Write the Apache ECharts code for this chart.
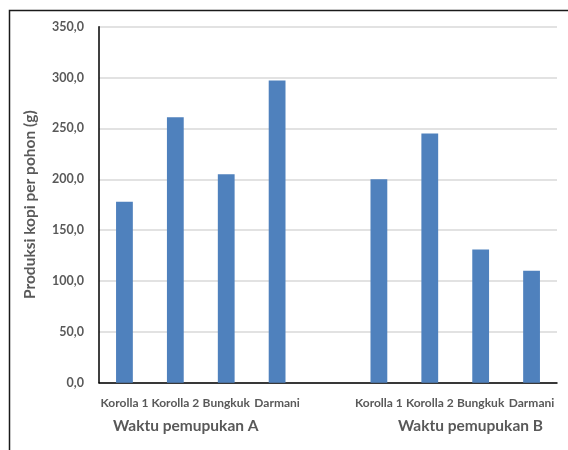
<!DOCTYPE html>
<html>
<head>
<meta charset="utf-8">
<script src="https://cdn.jsdelivr.net/npm/echarts@6/dist/echarts.min.js"></script>
<style>
  html, body { margin: 0; padding: 0; background: #fff; }
  #chart { width: 568px; height: 450px; }
</style>
</head>
<body>
<div id="chart"></div>
<script>
// varieties per fertilizing time; the empty slot separates the two groups
const categories = ['Korolla 1', 'Korolla 2', 'Bungkuk', 'Darmani', '', 'Korolla 1', 'Korolla 2', 'Bungkuk', 'Darmani'];
const valuesA = [178, 261, 205, 297];
const valuesB = [200, 245, 131, 110];
const groupLabels = ['Waktu pemupukan A', 'Waktu pemupukan B'];
const yTicks = [0, 50, 100, 150, 200, 250, 300, 350];

const textColor = '#595959';
const font = 'Lato, "Open Sans", sans-serif';

let seriesData = valuesA.concat([null], valuesB);

let chart = echarts.init(document.getElementById('chart'));
let option = {
  animation: false,
  grid: {
    left: 99,
    right: 11,
    top: 26.7,
    bottom: 67.3
  },
  graphic: [{
    type: 'rect',
    left: 7,
    top: 8,
    shape: { width: 620, height: 500 },
    style: { fill: 'none', stroke: '#1a1a1a', lineWidth: 1.5 },
    silent: true
  }, {
    type: 'text',
    left: 113,
    top: 418,
    style: { text: groupLabels[0], fill: textColor, font: 'bold 15.5px ' + font }
  }, {
    type: 'text',
    left: 398,
    top: 418,
    style: { text: groupLabels[1], fill: textColor, font: 'bold 15.5px ' + font }
  }],
  xAxis: {
    type: 'category',
    data: categories,
    axisLine: { lineStyle: { color: '#000', width: 1.5 } },
    axisTick: { show: false },
    axisLabel: {
      interval: 0,
      margin: 14,
      color: textColor,
      fontFamily: font,
      fontWeight: 'bold',
      fontSize: 12
    }
  },
  yAxis: {
    type: 'value',
    min: yTicks[0],
    max: yTicks[yTicks.length - 1],
    interval: 50,
    name: 'Produksi kopi per pohon (g)',
    nameLocation: 'middle',
    nameGap: 61,
    nameTextStyle: {
      color: textColor,
      fontFamily: font,
      fontWeight: 'bold',
      fontSize: 15.5
    },
    axisLine: { show: true, lineStyle: { color: '#000', width: 1.5 } },
    axisTick: { show: false },
    splitLine: { lineStyle: { color: '#d9d9d9', width: 1.5 } },
    axisLabel: {
      margin: 15,
      color: textColor,
      fontFamily: font,
      fontWeight: 'bold',
      fontSize: 12.5,
      formatter: v => v.toFixed(1).replace('.', ',')
    }
  },
  series: [{
    type: 'bar',
    data: seriesData,
    barWidth: '33%',
    itemStyle: { color: '#4f81bd' }
  }]
};
chart.setOption(option);
</script>
</body>
</html>
